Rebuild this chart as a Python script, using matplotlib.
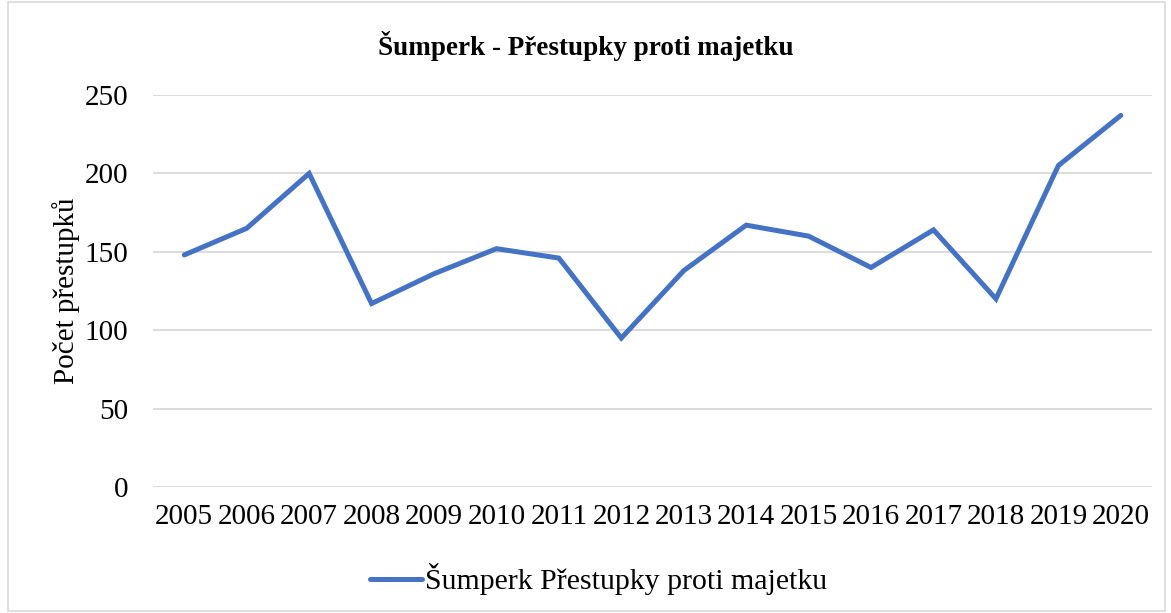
import matplotlib.pyplot as plt
from matplotlib.patches import Rectangle

# Přestupky proti majetku, Šumperk
years = ["2005", "2006", "2007", "2008", "2009", "2010", "2011", "2012",
         "2013", "2014", "2015", "2016", "2017", "2018", "2019", "2020"]
counts = [148, 165, 200, 117, 136, 152, 146, 95,
          138, 167, 160, 140, 164, 120, 205, 237]

plt.rcParams["font.family"] = ["Liberation Serif", "DejaVu Serif"]

fig = plt.figure(figsize=(11.71, 6.13), dpi=100)
ax = fig.add_axes([0.1307, 0.2055, 0.8531, 0.6395])

x = range(len(years))
ax.plot(x, counts, color="#4472C4", linewidth=3.6, solid_joinstyle="miter",
        solid_capstyle="round", label="Šumperk Přestupky proti majetku")

ax.set_ylim(0, 250)
ax.set_xlim(-0.5, len(years) - 0.5)
ax.set_yticks(range(0, 251, 50))
ax.set_xticks(list(x))
ax.set_xticklabels(years)
ax.tick_params(axis="both", length=0, labelsize=21, colors="black")
ax.tick_params(axis="x", pad=12)
ax.tick_params(axis="y", pad=18)
ax.grid(axis="y", color="#D9D9D9", linewidth=1.3)
ax.set_axisbelow(True)
for s in ax.spines.values():
    s.set_visible(False)

ax.set_ylabel("Počet přestupků", fontsize=21, labelpad=3)
fig.text(0.5, 0.925, "Šumperk - Přestupky proti majetku", ha="center",
         va="center", fontsize=19.5, fontweight="bold")

leg = ax.legend(loc="center", bbox_to_anchor=(0.446, -0.235), frameon=False,
                fontsize=21.5, handlelength=1.75, handletextpad=0.1)

# outer chart border
fig.patches.append(Rectangle((0.007, 0.003), 0.988, 0.994, transform=fig.transFigure,
                             fill=False, edgecolor="#D9D9D9", linewidth=1.2))

fig.savefig("out.png", dpi=100)
